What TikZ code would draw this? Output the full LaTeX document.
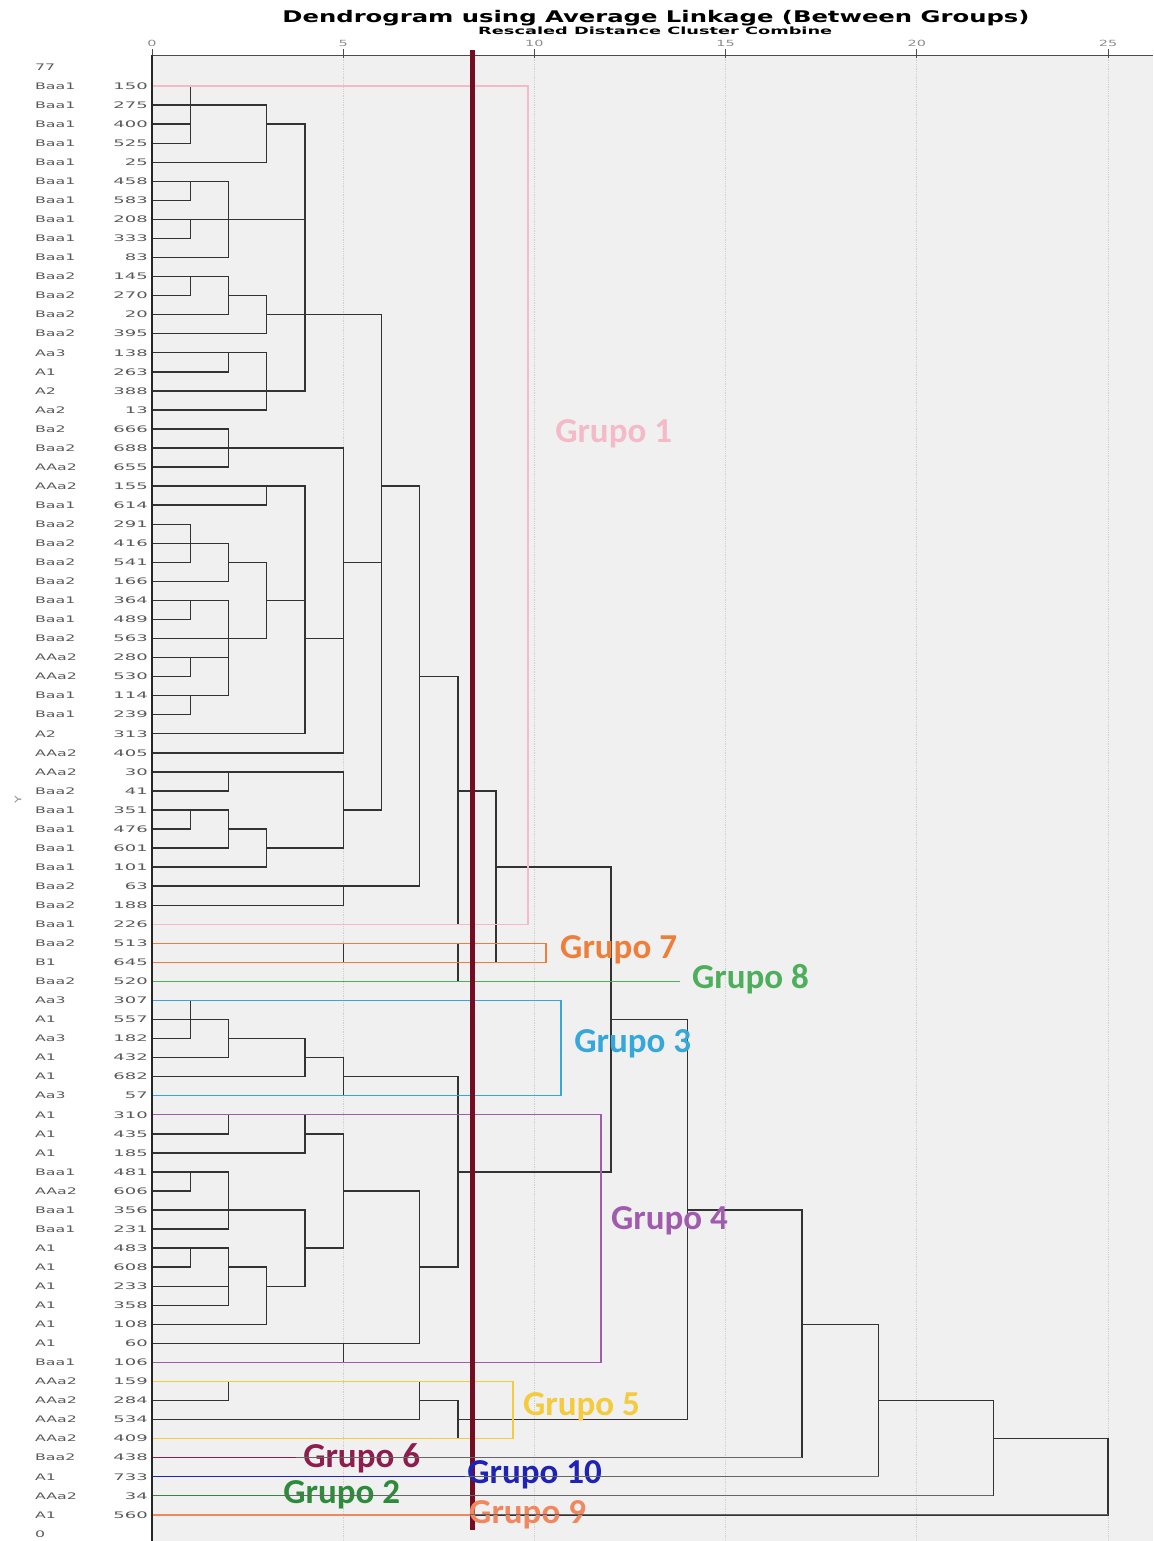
\documentclass[tikz,border=0pt]{standalone}
\usepackage{fontspec}
\usepackage{graphicx}
\setmainfont{DejaVu Sans}
\newfontfamily\grpfont{Carlito}
\usetikzlibrary{positioning}

\definecolor{plotbg}{HTML}{F0F0F0}
\definecolor{cutred}{HTML}{760C22}
\definecolor{gone}{HTML}{F4BAC8}
\definecolor{gseven}{HTML}{EE7F3B}
\definecolor{geight}{HTML}{4DAE5B}
\definecolor{gthree}{HTML}{35A7DA}
\definecolor{gfour}{HTML}{A05BAF}
\definecolor{gfive}{HTML}{F3CB3C}
\definecolor{gsix}{HTML}{8C1D4D}
\definecolor{gten}{HTML}{1E22B5}
\definecolor{gtwo}{HTML}{2E8B3B}
\definecolor{gnine}{HTML}{F0875E}

\newcommand{\wide}[2][1.75]{\scalebox{#1}[1]{#2}}

\begin{document}
\begin{tikzpicture}[
    x=38.24pt, y=-19.05pt,
    tree/.style={black!80,line width=1.4pt,line cap=rect},
    leafname/.style={anchor=west,inner sep=0pt,text=black!65,font=\fontsize{9}{9}\selectfont},
    leafid/.style={anchor=east,inner sep=0pt,text=black!65,font=\fontsize{9}{9}\selectfont},
    ticklbl/.style={inner sep=0pt,text=black!45,font=\fontsize{8.5}{8.5}\selectfont},
    gridline/.style={black!18,densely dotted,line width=0.8pt},
    grpbox/.style={line width=1.4pt},
    grplabel/.style={anchor=base west,inner sep=0pt,font=\grpfont\bfseries\fontsize{35}{35}\selectfont}
]
    \useasboundingbox (-3.975,-3.517) rectangle (26.177,77.375);

    % plot area and scale
    \fill[plotbg] (0,-0.63) rectangle (26.177,77.375);
    \foreach \t in {5,10,...,25}
        \draw[gridline] (\t,-0.63) -- (\t,77.375);
    \foreach \t in {0,5,...,25} {
        \draw[black!70,line width=0.8pt] (\t,-0.95) -- (\t,-0.45);
        \node[ticklbl] (tick\t) at (\t,-1.25) {\wide[1.7]{\t}};
    }
    \draw[black!70,line width=1pt] (0,-0.63) -- (26.177,-0.63);

    \node[anchor=base,inner sep=0pt] (title) at (13.18,-2.36)
        {\resizebox{747pt}{12.2pt}{\bfseries Dendrogram using Average Linkage (Between Groups)}};
    \node[anchor=base,inner sep=0pt] (subtitle) at (13.16,-1.72)
        {\resizebox{354pt}{7.6pt}{\bfseries Rescaled Distance Cluster Combine}};
    \node[ticklbl,rotate=90,font=\fontsize{9}{9}\selectfont] (ylab) at (-3.50,38.48) {\wide[1.4]{Y}};

    % leaves
    \node[leafname] (nm0) at (-3.06,0) {\wide{77}};
    \node[leafname] (nm77) at (-3.06,77) {\wide{0}};
    \foreach \i/\nm/\id/\lv in {
        1/Baa1/150/1, 2/Baa1/275/1, 3/Baa1/400/1, 4/Baa1/525/1, 5/Baa1/25/3,
        6/Baa1/458/1, 7/Baa1/583/1, 8/Baa1/208/1, 9/Baa1/333/1, 10/Baa1/83/2,
        11/Baa2/145/1, 12/Baa2/270/1, 13/Baa2/20/2, 14/Baa2/395/3, 15/Aa3/138/2,
        16/A1/263/2, 17/A2/388/3, 18/Aa2/13/3, 19/Ba2/666/2, 20/Baa2/688/2,
        21/AAa2/655/2, 22/AAa2/155/3, 23/Baa1/614/3, 24/Baa2/291/1, 25/Baa2/416/1,
        26/Baa2/541/1, 27/Baa2/166/2, 28/Baa1/364/1, 29/Baa1/489/1, 30/Baa2/563/2,
        31/AAa2/280/1, 32/AAa2/530/1, 33/Baa1/114/1, 34/Baa1/239/1, 35/A2/313/4,
        36/AAa2/405/5, 37/AAa2/30/2, 38/Baa2/41/2, 39/Baa1/351/1, 40/Baa1/476/1,
        41/Baa1/601/2, 42/Baa1/101/3, 43/Baa2/63/5, 44/Baa2/188/5, 45/Baa1/226/8,
        46/Baa2/513/5, 47/B1/645/5, 48/Baa2/520/8, 49/Aa3/307/1, 50/A1/557/1,
        51/Aa3/182/1, 52/A1/432/2, 53/A1/682/4, 54/Aa3/57/5, 55/A1/310/2,
        56/A1/435/2, 57/A1/185/4, 58/Baa1/481/1, 59/AAa2/606/1, 60/Baa1/356/2,
        61/Baa1/231/2, 62/A1/483/1, 63/A1/608/1, 64/A1/233/2, 65/A1/358/2,
        66/A1/108/3, 67/A1/60/5, 68/Baa1/106/5, 69/AAa2/159/2, 70/AAa2/284/2,
        71/AAa2/534/7, 72/AAa2/409/8, 73/Baa2/438/17, 74/A1/733/19, 75/AAa2/34/22,
        76/A1/560/25} {
        \node[leafname] (nm\i) at (-3.06,\i) {\wide{\nm}};
        \node[leafid] (id\i) at (-0.105,\i) {\wide[2]{\id}};
        \draw[tree] (0,\i) -- (\lv,\i);
    }

    % merges: level / first row / last row / output row / next level
    \foreach \l/\a/\b/\o/\p in {
        1/1/4/2/3, 3/2/5/3/4, 1/6/7/6/2, 1/8/9/8/2, 2/6/10/8/4,
        1/11/12/11/2, 2/11/13/12/3, 3/12/14/13/4, 2/15/16/15/3, 3/15/18/17/4,
        4/3/17/13/6, 2/19/21/20/5, 3/22/23/22/4, 1/24/26/25/2, 2/25/27/26/3,
        1/28/29/28/2, 1/31/32/31/2, 1/33/34/33/2, 2/28/33/30/3, 3/26/30/28/4,
        4/22/35/30/5, 5/20/36/26/6, 2/37/38/37/5, 1/39/40/39/2, 2/39/41/40/3,
        3/40/42/41/5, 5/37/41/39/6, 6/13/39/22/7, 5/43/44/43/7, 7/22/43/32/8,
        8/32/45/38/9, 5/46/47/46/8, 8/46/48/47/9, 9/38/47/42/12,
        1/49/51/50/2, 2/50/52/51/4, 4/51/53/52/5, 5/52/54/53/8,
        2/55/56/55/4, 4/55/57/56/5, 1/58/59/58/2, 2/58/61/60/4, 1/62/63/62/2,
        2/62/65/63/3, 3/63/66/64/4, 4/60/64/62/5, 5/56/62/59/7, 5/67/68/67/7,
        7/59/67/63/8, 8/53/63/58/12, 2/69/70/69/7, 7/69/71/70/8, 8/70/72/71/14,
        12/42/58/50/14, 14/50/71/60/17, 17/60/73/66/19, 19/66/74/70/22,
        22/70/75/72/25, 25/72/76/72/25} {
        \draw[tree] (\l,\a) -- (\l,\b);
        \draw[tree] (\l,\o) -- (\p,\o);
    }

    % groups
    \draw[grpbox,gone] (0,1) rectangle (9.833,45);
    \draw[grpbox,gseven] (0,46) rectangle (10.30,47);
    \draw[grpbox,geight] (0,48) -- (13.81,48);
    \draw[grpbox,gthree] (0,49) rectangle (10.70,54);
    \draw[grpbox,gfour] (0,55) rectangle (11.74,68);
    \draw[grpbox,gfive] (0,69) rectangle (9.44,72);
    \draw[grpbox,gsix] (0,73) -- (3.77,73);
    \draw[grpbox,gten] (0,74) -- (8.19,74);
    \draw[grpbox,gtwo] (0,75) -- (3.43,75);
    \draw[grpbox,gnine] (0,76) -- (8.32,76);

    \draw[black!85,line width=1.6pt] (0,-0.63) -- (0,77.375);
    \draw[cutred,line width=5pt] (8.394,-0.892) -- (8.394,76.8);

    \node[grplabel,text=gone] (g1) at (10.54,19.69) {Grupo 1};
    \node[grplabel,text=gseven] (g7) at (10.67,46.82) {Grupo 7};
    \node[grplabel,text=geight] (g8) at (14.12,48.35) {Grupo 8};
    \node[grplabel,text=gthree] (g3) at (11.04,51.71) {Grupo 3};
    \node[grplabel,text=gfour] (g4) at (12.00,61.00) {Grupo 4};
    \node[grplabel,text=gfive] (g5) at (9.70,70.76) {Grupo 5};
    \node[grplabel,text=gsix] (g6) at (3.95,73.54) {Grupo 6};
    \node[grplabel,text=gten] (g10) at (8.24,74.38) {Grupo 10};
    \node[grplabel,text=gtwo] (g2) at (3.43,75.38) {Grupo 2};
    \node[grplabel,text=gnine] (g9) at (8.29,76.43) {Grupo 9};

    % leaf lines showing through the lower labels
    \foreach \i/\s/\lv in {73/3.77/17, 74/8.19/19, 75/3.43/22, 76/8.32/25}
        \draw[black!60,line width=1pt] (\s,\i) -- (\lv,\i);
\end{tikzpicture}
\end{document}
